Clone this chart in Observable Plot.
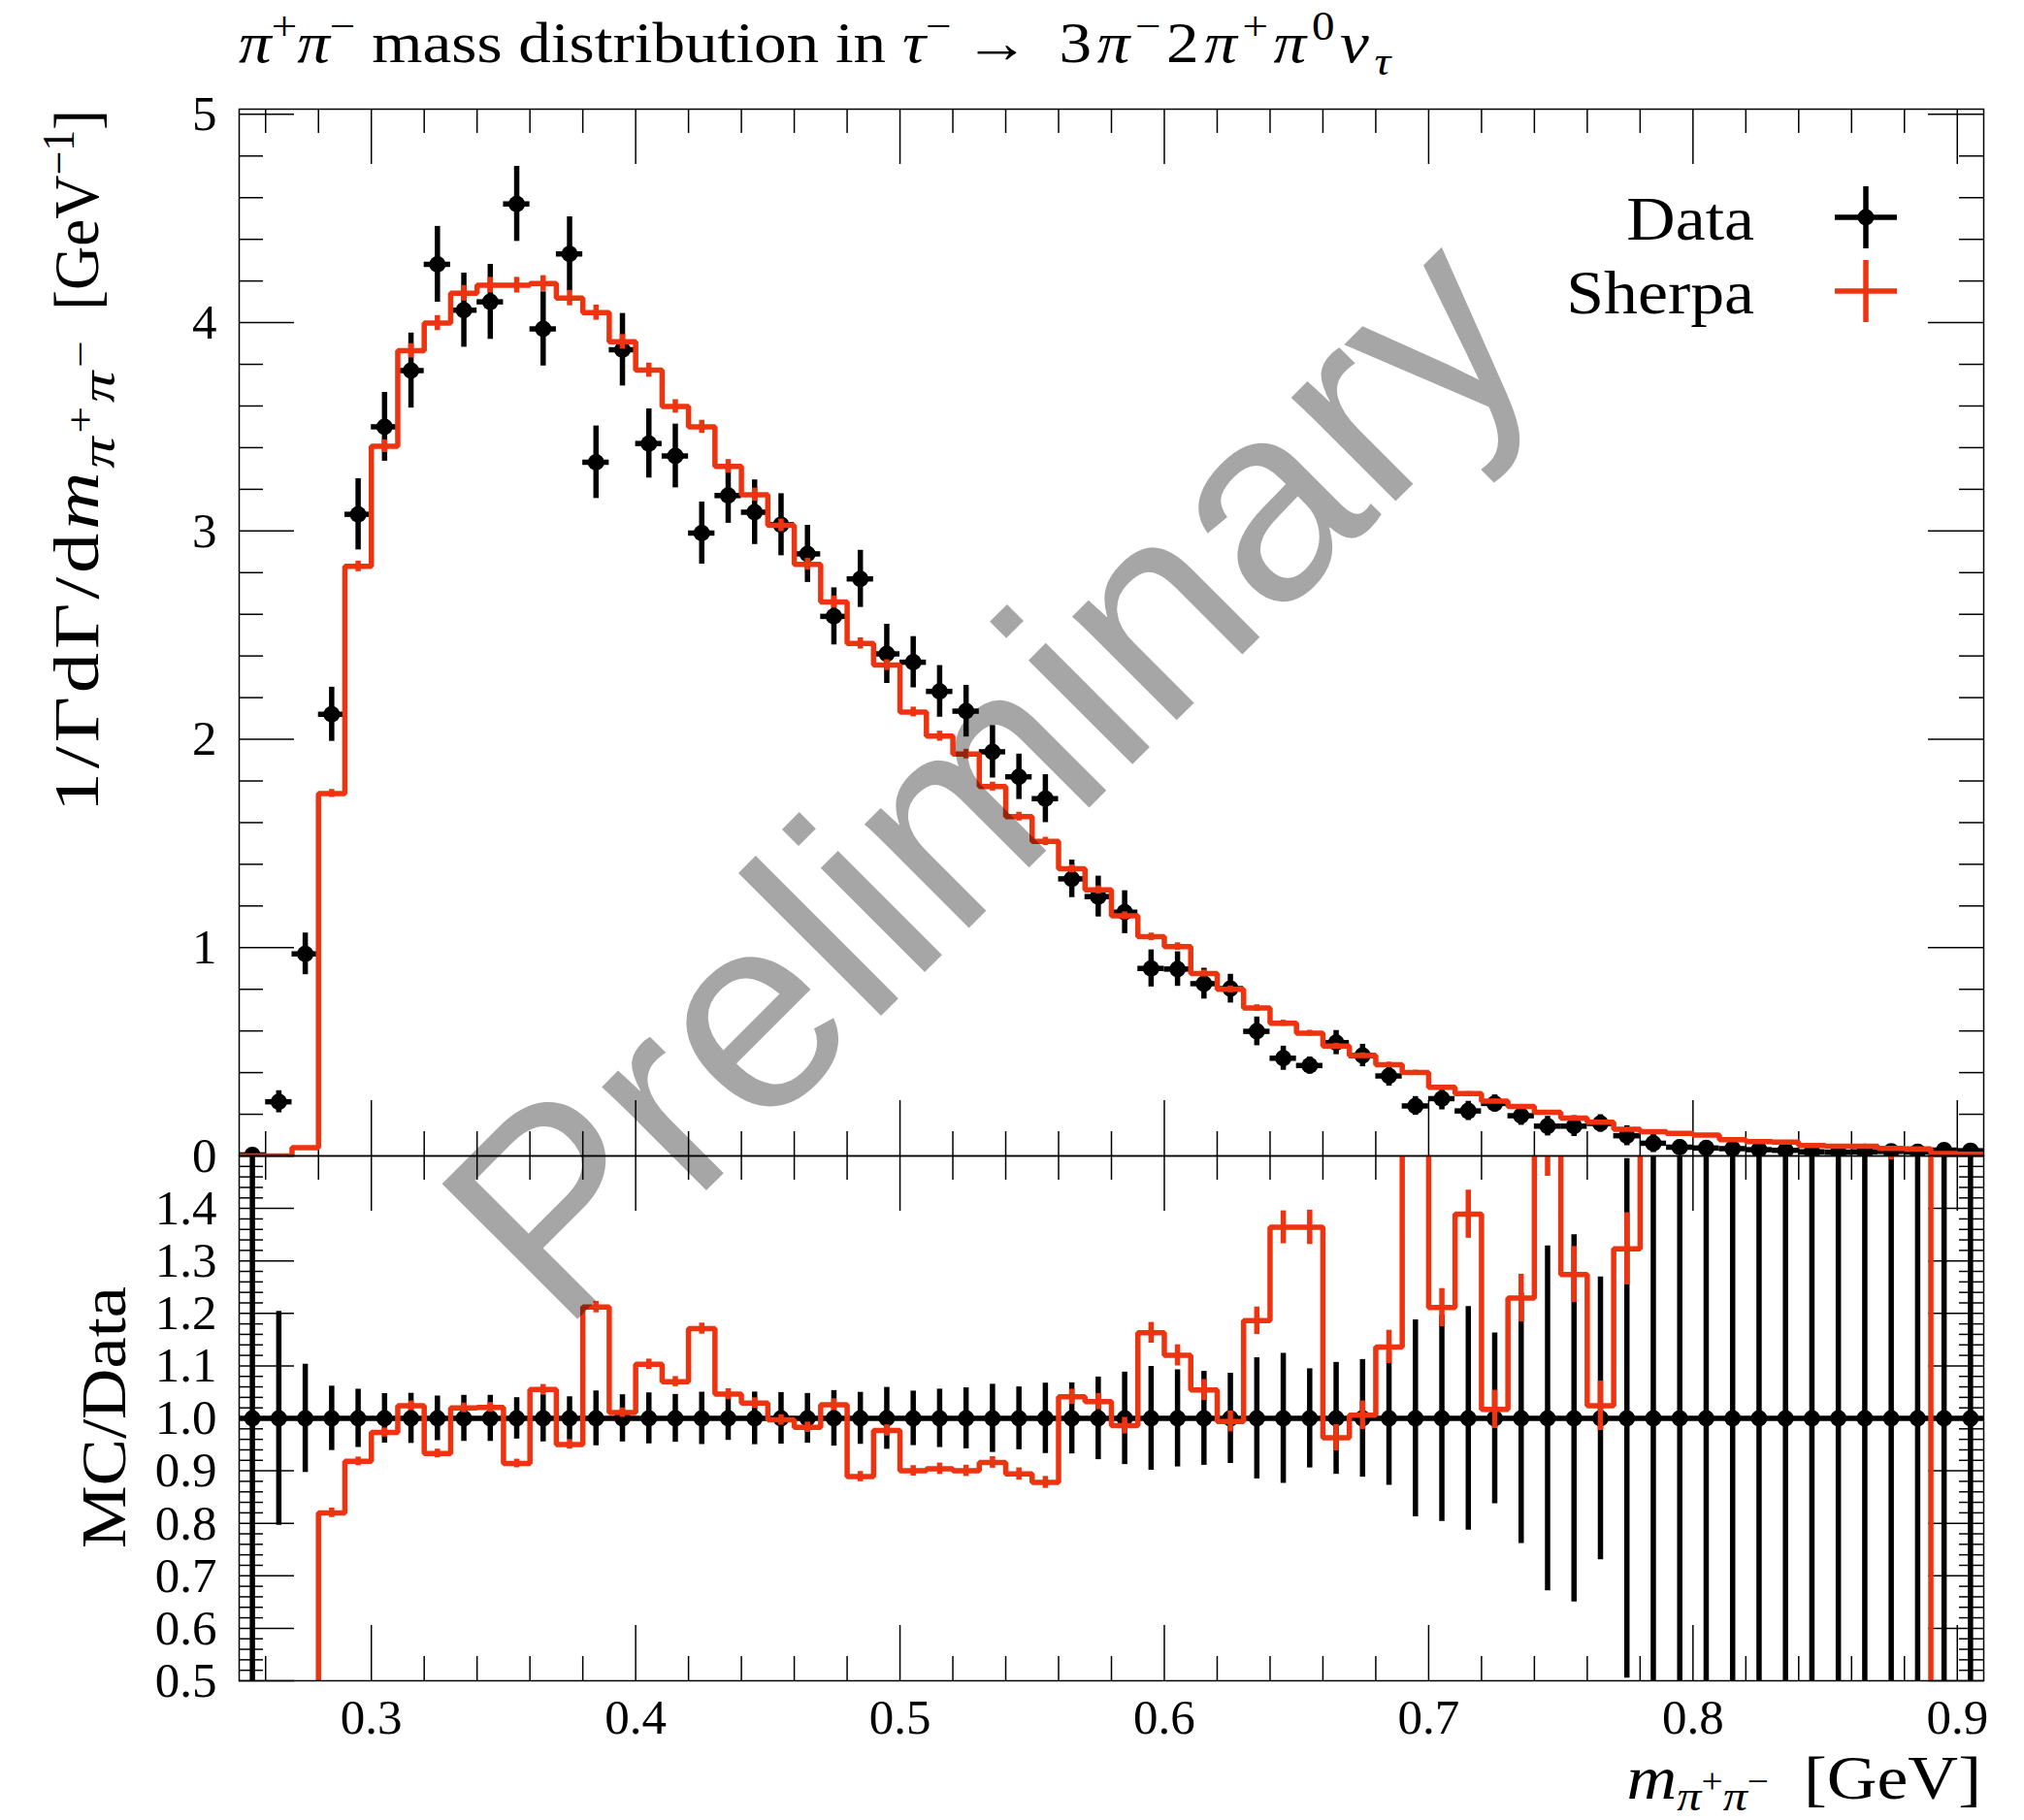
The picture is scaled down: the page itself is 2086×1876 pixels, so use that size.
<!DOCTYPE html>
<html><head><meta charset="utf-8">
<script src="https://cdn.jsdelivr.net/npm/d3@7"></script>
<script src="https://cdn.jsdelivr.net/npm/@observablehq/plot@0.6"></script>
<style>
html,body{margin:0;padding:0;background:#fff;}
#root{position:relative;width:2086px;height:1876px;overflow:hidden;background:#fff;}
#root svg{position:absolute;left:0;}
</style></head><body><div id="root"></div>
<script>
// ---- data (bin centres, bin width 0.01 GeV) ----
const mass = [0.255,0.265,0.275,0.285,0.295,0.305,0.315,0.325,0.335,0.345,
  0.355,0.365,0.375,0.385,0.395,0.405,0.415,0.425,0.435,0.445,
  0.455,0.465,0.475,0.485,0.495,0.505,0.515,0.525,0.535,0.545,
  0.555,0.565,0.575,0.585,0.595,0.605,0.615,0.625,0.635,0.645,
  0.655,0.665,0.675,0.685,0.695,0.705,0.715,0.725,0.735,0.745,
  0.755,0.765,0.775,0.785,0.795,0.805,0.815,0.825,0.835,0.845,
  0.855,0.865,0.875,0.885,0.895,0.905];
const binWidth = 0.01;
const dataVal = [0.005,0.26,0.97,2.12,3.08,3.50,3.77,4.28,4.06,4.10,
  4.57,3.97,4.33,3.33,3.87,3.42,3.36,2.99,3.17,3.09,
  3.03,2.89,2.59,2.77,2.41,2.37,2.23,2.135,1.94,1.82,
  1.715,1.33,1.245,1.17,0.90,0.897,0.827,0.803,0.598,0.469,
  0.434,0.544,0.482,0.384,0.24,0.275,0.216,0.252,0.193,0.143,
  0.143,0.156,0.097,0.061,0.042,0.038,0.035,0.03,0.027,0.02,
  0.018,0.02,0.022,0.02,0.028,0.025];
const dataErr = [0.005,0.053,0.10,0.13,0.171,0.165,0.18,0.182,0.178,0.18,
  0.18,0.178,0.178,0.174,0.174,0.166,0.153,0.149,0.133,0.155,
  0.149,0.137,0.137,0.137,0.142,0.123,0.124,0.124,0.126,0.109,
  0.115,0.09,0.098,0.103,0.089,0.083,0.074,0.069,0.069,0.058,
  0.041,0.058,0.054,0.049,0.045,0.054,0.046,0.041,0.046,0.047,
  0.050,0.042,0.048,0.045,0.035,0.033,0.03,0.028,0.025,0.02,
  0.018,0.02,0.02,0.02,0.025,0.025];
const sherpa = [0,0,0.04,1.74,2.83,3.407,3.865,3.998,4.141,4.18,
  4.18,4.188,4.118,4.048,3.908,3.772,3.598,3.50,3.31,3.174,
  3.027,2.84,2.659,2.46,2.356,2.131,2.015,1.929,1.773,1.629,
  1.51,1.378,1.277,1.153,1.052,1.005,0.876,0.80,0.71,0.637,
  0.589,0.527,0.482,0.438,0.40,0.33,0.299,0.263,0.237,0.209,
  0.182,0.162,0.128,0.117,0.108,0.10,0.078,0.069,0.066,0.05,
  0.046,0.046,0.036,0.034,0.012,0.008];
const ratio = [0,0,0.04,0.82,0.918,0.973,1.024,0.933,1.02,1.021,
  0.914,1.055,0.95,1.212,1.011,1.103,1.07,1.171,1.046,1.029,
  0.997,0.983,1.026,0.889,0.977,0.90,0.904,0.90,0.916,0.894,
  0.878,1.041,1.032,0.986,1.163,1.12,1.054,0.994,1.186,1.364,
  1.364,0.963,1.006,1.136,1.67,1.211,1.389,1.017,1.229,1.53,
  1.274,1.024,1.323,1.92,2.57,2.63,2.23,2.3,2.44,2.5,
  2.56,2.3,1.64,1.7,0.43,0.32];
const sherpaRelErr = [0,0,0.1,0.011,0.009,0.009,0.009,0.009,0.009,0.009,
  0.009,0.009,0.009,0.009,0.009,0.009,0.009,0.009,0.01,0.01,
  0.01,0.01,0.011,0.011,0.011,0.011,0.012,0.012,0.012,0.013,
  0.013,0.014,0.015,0.016,0.017,0.018,0.019,0.02,0.022,0.023,
  0.024,0.026,0.027,0.028,0.029,0.03,0.033,0.036,0.037,0.045,
  0.042,0.046,0.052,0.055,0.058,0.06,0.065,0.07,0.072,0.08,
  0.085,0.085,0.09,0.095,0.12,0.15];
// ---- tick labels ----
const xMajor = [0.3,0.4,0.5,0.6,0.7,0.8,0.9];
const yMajorTop = [0,1,2,3,4,5];
const yMajorRatio = [0.5,0.6,0.7,0.8,0.9,1.0,1.1,1.2,1.3,1.4,1.5];
const yLabelsRatio = [0.5,0.6,0.7,0.8,0.9,1.0,1.1,1.2,1.3,1.4];

const RED = "#EE3311";
const SERIF = "Liberation Serif";
const near = (v, arr) => arr.some(a => Math.abs(a - v) < 1e-6);
const xMinor = d3.range(13, 46).map(k => +(k * 0.02).toFixed(2)).filter(v => !near(v, xMajor));
const yMinorTop = d3.range(0, 26).map(k => +(k * 0.2).toFixed(2)).filter(v => !near(v, yMajorTop));
const yMinorRatio = d3.range(25, 76).map(k => +(k * 0.02).toFixed(2)).filter(v => !near(v, yMajorRatio));

const bins = mass.map((m, i) => ({
  m, lo: m - binWidth / 2, hi: m + binWidth / 2,
  d: dataVal[i], e: dataErr[i], mc: sherpa[i], r: ratio[i], me: sherpaRelErr[i]
}));
const last = bins[bins.length - 1];
const stepTop = bins.map(b => ({x: b.lo, y: b.mc})).concat([{x: last.hi, y: last.mc}]);
const stepRatio = bins.map(b => ({x: b.lo, y: b.r})).concat([{x: last.hi, y: last.r}]);

// ---- layout ----
const W = 2086, FL = 246, FR = 2044, T1 = 112, B1 = 1191, B2 = 1732, H = 1876;
const FW = FR - FL, H1 = B1 - T1, H2 = B2 - B1;
const MAJ = 57, MIN = 25, TW = 1.5, LW = 5.5, DOT = 8.5, TICKFONT = 51;

function tickMarks(fh, xs, ys) {
  const m = [];
  for (const [vals, len] of [[xs[0], MAJ], [xs[1], MIN]]) {
    m.push(Plot.ruleX(vals, {x: d => d, insetTop: fh - len, strokeWidth: TW}));
    m.push(Plot.ruleX(vals, {x: d => d, insetBottom: fh - len, strokeWidth: TW}));
  }
  for (const [vals, len] of [[ys[0], MAJ], [ys[1], MIN]]) {
    m.push(Plot.ruleY(vals, {y: d => d, insetRight: FW - len, strokeWidth: TW}));
    m.push(Plot.ruleY(vals, {y: d => d, insetLeft: FW - len, strokeWidth: TW}));
  }
  return m;
}

const topPlot = Plot.plot({
  width: W, height: B1, marginLeft: FL, marginRight: W - FR, marginTop: T1, marginBottom: 0,
  style: {background: "transparent", overflow: "visible"},
  x: {domain: [0.25, 0.91], axis: null},
  y: {domain: [0, 5.025], axis: null},
  marks: [
    ...tickMarks(H1, [xMajor, xMinor], [yMajorTop, yMinorTop]),
    Plot.ruleY(bins, {y: "d", x1: "lo", x2: "hi", strokeWidth: LW, clip: true}),
    Plot.ruleX(bins, {x: "m", y1: b => b.d - b.e, y2: b => b.d + b.e, strokeWidth: LW, clip: true}),
    Plot.dot(bins, {x: "m", y: "d", r: DOT, fill: "black", clip: true}),
    Plot.line(stepTop, {x: "x", y: "y", curve: "step-after", stroke: RED, strokeWidth: LW,
      strokeLinejoin: "miter", strokeLinecap: "butt", clip: true}),
    Plot.ruleX(bins, {x: "m", y1: b => b.mc * (1 - b.me), y2: b => b.mc * (1 + b.me), stroke: RED, strokeWidth: LW, clip: true}),
    Plot.frame({strokeWidth: TW}),
    Plot.text(yMajorTop, {y: d => d, text: d => String(d), frameAnchor: "left", textAnchor: "end",
      dx: -23, lineAnchor: "middle", fontSize: TICKFONT, fontFamily: SERIF})
  ]
});
topPlot.style.top = "0px";

const botPlot = Plot.plot({
  width: W, height: H - B1, marginLeft: FL, marginRight: W - FR, marginTop: 0, marginBottom: H - B2,
  style: {background: "transparent", overflow: "visible"},
  x: {domain: [0.25, 0.91], axis: null},
  y: {domain: [0.5, 1.5], axis: null},
  marks: [
    ...tickMarks(H2, [xMajor, xMinor], [yMajorRatio, yMinorRatio]),
    Plot.ruleY([1], {y: d => d, strokeWidth: LW}),
    Plot.ruleX(bins, {x: "m", y1: b => 1 - b.e / b.d, y2: b => 1 + b.e / b.d, strokeWidth: LW, clip: true}),
    Plot.dot(bins, {x: "m", y: () => 1, r: DOT, fill: "black", clip: true}),
    Plot.line(stepRatio, {x: "x", y: "y", curve: "step-after", stroke: RED, strokeWidth: LW,
      strokeLinejoin: "miter", strokeLinecap: "butt", clip: true}),
    Plot.ruleX(bins, {x: "m", y1: b => b.r * (1 - b.me), y2: b => b.r * (1 + b.me), stroke: RED, strokeWidth: LW, clip: true}),
    Plot.frame({strokeWidth: TW}),
    Plot.text(yLabelsRatio, {y: d => d, text: d => d.toFixed(1), frameAnchor: "left", textAnchor: "end",
      dx: -23, lineAnchor: "middle", fontSize: TICKFONT, fontFamily: SERIF}),
    Plot.text(xMajor, {x: d => d, text: d => d.toFixed(1), frameAnchor: "bottom", lineAnchor: "top",
      dy: 18, fontSize: TICKFONT, fontFamily: SERIF})
  ]
});
botPlot.style.top = B1 + "px";

const root = document.getElementById("root");
root.appendChild(topPlot);
root.appendChild(botPlot);

// ---- overlay: title, axis titles, legend, watermark ----
const NS = "http://www.w3.org/2000/svg";
const ov = document.createElementNS(NS, "svg");
ov.setAttribute("width", W); ov.setAttribute("height", H);
ov.style.top = "0px"; ov.style.pointerEvents = "none";
root.appendChild(ov);

function el(name, attrs, parent = ov) {
  const e = document.createElementNS(NS, name);
  for (const k in attrs) e.setAttribute(k, attrs[k]);
  parent.appendChild(e); return e;
}
function rich(x, y, tokens, size, anchor = "start", rotate = 0, sx = 1) {
  const t = el("text", {transform: `translate(${x},${y}) rotate(${rotate}) scale(${sx},1)`, "text-anchor": anchor,
    "font-family": SERIF, "font-size": size, fill: "black"});
  t.style.whiteSpace = "pre";
  let cur = 0;
  for (const [str, o = {}] of tokens) {
    const ts = el("tspan", {}, t);
    const sh = (o.sh || 0) * size;
    ts.setAttribute("dy", sh - cur); cur = sh;
    if (o.sc) ts.setAttribute("font-size", size * o.sc);
    if (o.it) ts.setAttribute("font-style", "italic");
    if (o.ls) ts.setAttribute("letter-spacing", o.ls);
    ts.textContent = str;
  }
  return t;
}
const SUP = {sh: -0.38, sc: 0.7};
const MS = {sh: -0.38, sc: 0.7, ls: 5};

rich(246, 64, [["π", {it: 1}], ["+", SUP], ["π", {it: 1}], ["−", SUP], [" mass distribution in "],
  ["τ", {it: 1}], ["−", SUP], ["\u2009→\u2009 "], ["3", {ls: 5}], ["π", {it: 1, ls: 5}], ["−", MS], ["2", {ls: 5}],
  ["π", {it: 1, ls: 5}], ["+", MS], ["π", {it: 1, ls: 5}], ["0", MS], ["ν", {it: 1, ls: 5}],
  ["τ", {it: 1, sh: 0.22, sc: 0.7}]], 60, "start", 0, 1.12);

// y-axis title (top panel): unit part anchored at the top, quantity part stretched below it
const unitSX = 0.95;
const unitPart = rich(101, 113, [["\u2002[GeV"], ["−1", SUP], ["]"]], 66, "end", -90, unitSX);
const unitLen = unitPart.getComputedTextLength() * unitSX;
rich(101, 113 + unitLen, [["1/ΓdΓ/d", {ls: 3}], ["m", {it: 1, ls: 3}], ["π", {it: 1, sh: 0.25, sc: 0.78, ls: 3}],
  ["+", {sh: -0.08, sc: 0.6, ls: 3}], ["π", {it: 1, sh: 0.25, sc: 0.78, ls: 3}], ["−", {sh: -0.08, sc: 0.6}]],
  66, "end", -90, 1.25);

rich(129, 1461, [["MC/Data"]], 66, "middle", -90, 1.1);

// x-axis title
rich(2042, 1854, [["m", {it: 1}], ["π", {it: 1, sh: 0.18, sc: 0.7}], ["+", {sh: -0.1, sc: 0.55}],
  ["π", {it: 1, sh: 0.18, sc: 0.7}], ["−", {sh: -0.1, sc: 0.55}], ["\u2002[GeV]"]], 64, "end", 0, 1.12);

// legend
rich(1808, 247, [["Data"]], 64, "end", 0, 1.09);
rich(1808, 323, [["Sherpa"]], 64, "end", 0, 1.09);
const lx = 1923;
el("line", {x1: lx - 32, x2: lx + 32, y1: 224, y2: 224, stroke: "black", "stroke-width": LW});
el("line", {x1: lx, x2: lx, y1: 192, y2: 256, stroke: "black", "stroke-width": LW});
el("circle", {cx: lx, cy: 224, r: DOT, fill: "black"});
el("line", {x1: lx - 32, x2: lx + 32, y1: 300, y2: 300, stroke: RED, "stroke-width": LW});
el("line", {x1: lx, x2: lx, y1: 268, y2: 332, stroke: RED, "stroke-width": LW});

// watermark
const wm = el("text", {transform: "translate(1086,869) rotate(-45)", "text-anchor": "middle",
  "font-family": "Liberation Sans", "font-size": 287, fill: "black", "fill-opacity": 0.35});
wm.textContent = "Preliminary";
</script>
</body></html>
